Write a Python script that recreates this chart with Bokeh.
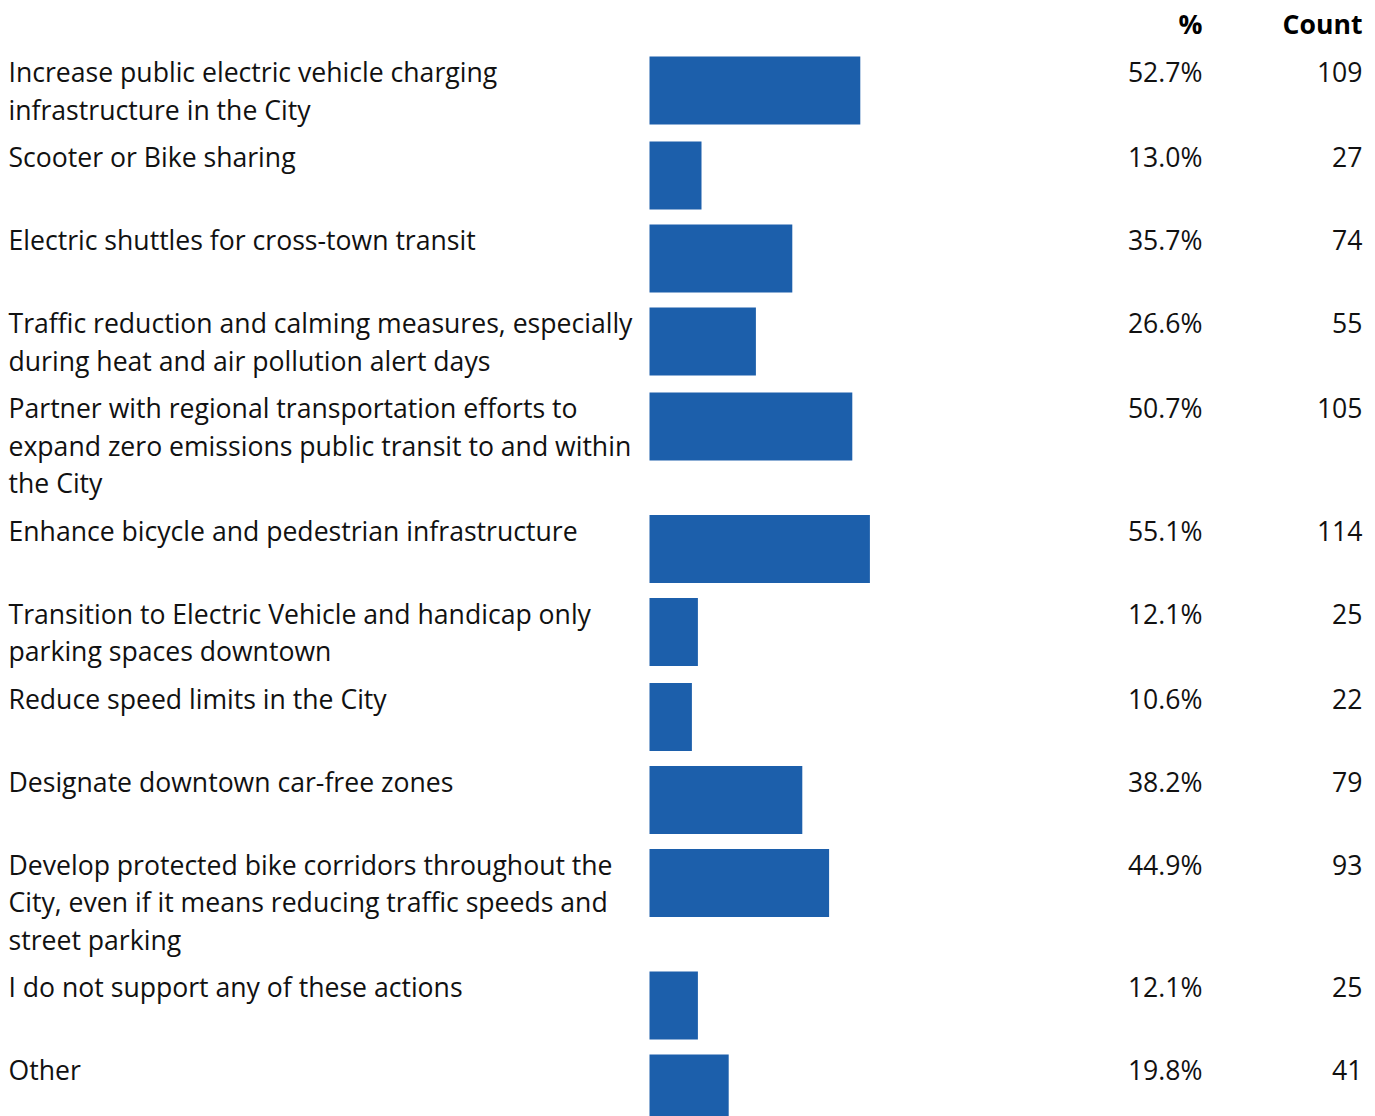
from bokeh.plotting import figure
from bokeh.models import Range1d, ColumnDataSource
from bokeh.core.properties import value
from bokeh.embed import file_html
from bokeh.resources import INLINE

# ---- data ----
labels = [
    "Increase public electric vehicle charging\ninfrastructure in the City",
    "Scooter or Bike sharing",
    "Electric shuttles for cross-town transit",
    "Traffic reduction and calming measures, especially\nduring heat and air pollution alert days",
    "Partner with regional transportation efforts to\nexpand zero emissions public transit to and within\nthe City",
    "Enhance bicycle and pedestrian infrastructure",
    "Transition to Electric Vehicle and handicap only\nparking spaces downtown",
    "Reduce speed limits in the City",
    "Designate downtown car-free zones",
    "Develop protected bike corridors throughout the\nCity, even if it means reducing traffic speeds and\nstreet parking",
    "I do not support any of these actions",
    "Other",
]
pct = [52.7, 13.0, 35.7, 26.6, 50.7, 55.1, 12.1, 10.6, 38.2, 44.9, 12.1, 19.8]
counts = [109, 27, 74, 55, 105, 114, 25, 22, 79, 93, 25, 41]
headers = ["%", "Count"]

# ---- layout (pixels) ----
W, H = 1375, 1116
BAR_ORIGIN = 649          # px where 0% sits
PX_PER_PCT = 4.0
LINE_H = 37.5
BAR_H = 68
FIRST_TOP = 56
FONT = "Open Sans"
FS = "26.6px"
COLOR = "#1c5fab"
TXT = "#111111"
TEXT_OFF = 15.5

x0 = -BAR_ORIGIN / PX_PER_PCT
x1 = (W - BAR_ORIGIN) / PX_PER_PCT
def px_to_x(px):
    return (px - BAR_ORIGIN) / PX_PER_PCT

p = figure(width=W, height=H, output_backend="svg", toolbar_location=None,
           x_range=Range1d(x0, x1), y_range=Range1d(H, 0), min_border=0)
p.axis.visible = False
p.grid.visible = False
p.outline_line_color = None
p.background_fill_color = "white"
p.border_fill_color = "white"

# rows
tops, centers = [], []
t = FIRST_TOP
for lab in labels:
    n = lab.count("\n") + 1
    tops.append(t)
    centers.append(t + BAR_H / 2)
    t += max(83, LINE_H * n + 10)

bar_src = ColumnDataSource(dict(y=centers, right=pct))
p.hbar(y="y", left=0, right="right", height=BAR_H, source=bar_src,
       fill_color=COLOR, line_color=None)

lx, ly, lt = [], [], []
for lab, top in zip(labels, tops):
    for i, line in enumerate(lab.split("\n")):
        lx.append(px_to_x(8))
        ly.append(top + TEXT_OFF + i * LINE_H)
        lt.append(line)
p.text(x=lx, y=ly, text=lt, text_font=value(FONT), text_font_size=FS,
       text_baseline="middle", text_align="left", text_color=TXT)

pct_txt = [f"{v:.1f}%" for v in pct]
cnt_txt = [str(c) for c in counts]
vy = [tp + TEXT_OFF for tp in tops]
p.text(x=[px_to_x(1202)] * len(pct), y=vy, text=pct_txt, text_font=value(FONT),
       text_font_size=FS, text_baseline="middle", text_align="right", text_color=TXT)
p.text(x=[px_to_x(1362)] * len(counts), y=vy, text=cnt_txt, text_font=value(FONT),
       text_font_size=FS, text_baseline="middle", text_align="right", text_color=TXT)

p.text(x=[px_to_x(1202), px_to_x(1362)], y=[23.5, 23.5], text=headers, text_font=value(FONT),
       text_font_size=FS, text_font_style="bold", text_baseline="middle",
       text_align="right", text_color="#000000")

open("out.html", "w").write(file_html(p, INLINE))
